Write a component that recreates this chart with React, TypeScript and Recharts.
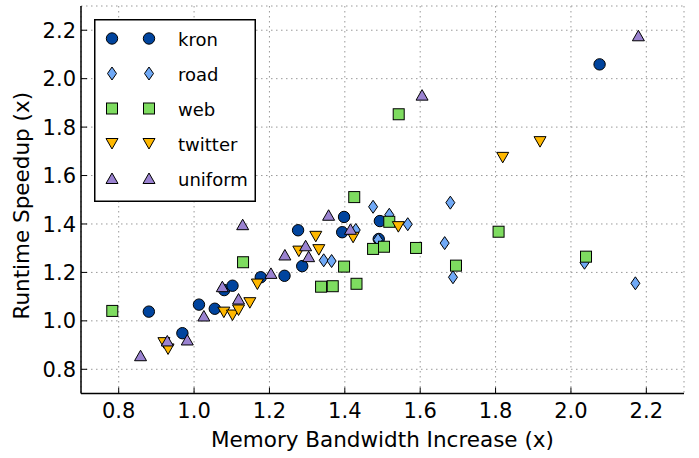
import React from 'react';
import { ScatterChart, Scatter, XAxis, YAxis, CartesianGrid, Legend } from 'recharts';

// ---- data ----
const seriesNames = ['kron', 'road', 'web', 'twitter', 'uniform'];

const kronX = [0.88, 0.969, 1.013, 1.055, 1.08, 1.102, 1.177, 1.24, 1.287, 1.276, 1.393, 1.398, 1.49, 1.493, 2.076];
const kronY = [1.038, 0.949, 1.067, 1.05, 1.127, 1.145, 1.18, 1.186, 1.226, 1.374, 1.366, 1.429, 1.338, 1.412, 2.059];

const roadX = [1.344, 1.365, 1.429, 1.475, 1.488, 1.518, 1.567, 1.665, 1.68, 1.687, 2.036, 2.171];
const roadY = [1.25, 1.247, 1.375, 1.471, 1.335, 1.438, 1.399, 1.321, 1.488, 1.18, 1.24, 1.155];

const webX = [0.783, 1.13, 1.337, 1.368, 1.398, 1.431, 1.425, 1.475, 1.504, 1.518, 1.589, 1.695, 1.808, 2.04, 1.543];
const webY = [1.041, 1.242, 1.141, 1.143, 1.224, 1.153, 1.511, 1.297, 1.306, 1.409, 1.301, 1.228, 1.368, 1.265, 1.853];

const twitterX = [0.92, 0.931, 1.079, 1.102, 1.118, 1.148, 1.168, 1.278, 1.323, 1.331, 1.422, 1.542, 1.819, 1.918];
const twitterY = [0.91, 0.884, 1.036, 1.024, 1.045, 1.075, 1.152, 1.288, 1.349, 1.294, 1.345, 1.389, 1.675, 1.74];

const uniformX = [0.858, 0.929, 0.982, 1.026, 1.075, 1.118, 1.129, 1.204, 1.241, 1.296, 1.304, 1.357, 1.415, 1.605, 2.179];
const uniformY = [0.856, 0.917, 0.921, 1.02, 1.141, 1.09, 1.397, 1.196, 1.272, 1.31, 1.265, 1.436, 1.378, 1.932, 2.177];

const tickValues = [0.8, 1.0, 1.2, 1.4, 1.6, 1.8, 2.0, 2.2];
const axisDomain: [number, number] = [0.7, 2.3];

const xLabel = 'Memory Bandwidth Increase (x)';
const yLabel = 'Runtime Speedup (x)';

// ---- styling ----
const FONT = 'DejaVu Sans';
type Kind = 'circle' | 'diamond' | 'square' | 'tdown' | 'tup';
const kinds: Kind[] = ['circle', 'diamond', 'square', 'tdown', 'tup'];
const colors = ['#00449e', '#70a9f6', '#7edc60', '#ffb800', '#9a82d0'];

const zip = (xs: number[], ys: number[]) => xs.map((x, i) => ({ x, y: ys[i] }));
const seriesData = [
  zip(kronX, kronY),
  zip(roadX, roadY),
  zip(webX, webY),
  zip(twitterX, twitterY),
  zip(uniformX, uniformY),
];

function Marker({ kind, cx, cy, fill }: { kind: Kind; cx: number; cy: number; fill: string }) {
  const common = { fill, stroke: '#000', strokeWidth: 1 };
  switch (kind) {
    case 'circle':
      return <circle cx={cx} cy={cy} r={5.7} {...common} />;
    case 'diamond':
      return <path d={`M${cx},${cy - 6.5}L${cx + 4.5},${cy}L${cx},${cy + 6.5}L${cx - 4.5},${cy}Z`} {...common} />;
    case 'square':
      return <rect x={cx - 5.5} y={cy - 5.5} width={11} height={11} {...common} />;
    case 'tup':
      return <path d={`M${cx},${cy - 5.5}L${cx + 6},${cy + 5}L${cx - 6},${cy + 5}Z`} {...common} />;
    case 'tdown':
      return <path d={`M${cx},${cy + 5.5}L${cx + 6},${cy - 5}L${cx - 6},${cy - 5}Z`} {...common} />;
  }
  return null;
}

const TICK_LEN = 6;
const BOTTOM_MARGIN = 9;
const LEFT_MARGIN = 5;

const BottomTick = (props: any) => {
  const { x, y, payload } = props;
  const ay = y - BOTTOM_MARGIN;
  return (
    <g>
      <line x1={x} x2={x} y1={ay} y2={ay - TICK_LEN} stroke="#000" strokeWidth={1} />
      <text x={x} y={y} dy="0.76em" textAnchor="middle" fontSize={21} fontFamily={FONT} fill="#000">
        {Number(payload.value).toFixed(1)}
      </text>
    </g>
  );
};

const LeftTick = (props: any) => {
  const { x, y, payload } = props;
  const ax = x + LEFT_MARGIN;
  return (
    <g>
      <line x1={ax} x2={ax + TICK_LEN} y1={y} y2={y} stroke="#000" strokeWidth={1} />
      <text x={x} y={y} dy="0.36em" textAnchor="end" fontSize={21} fontFamily={FONT} fill="#000">
        {Number(payload.value).toFixed(1)}
      </text>
    </g>
  );
};

const TopTick = (props: any) => {
  const { x, y } = props;
  return <line x1={x} x2={x} y1={y} y2={y + TICK_LEN} stroke="#000" strokeWidth={1} />;
};

const RightTick = (props: any) => {
  const { x, y } = props;
  return <line x1={x} x2={x - TICK_LEN} y1={y} y2={y} stroke="#000" strokeWidth={1} />;
};

const LegendBox = () => (
  <svg width={162} height={183} style={{ display: 'block' }}>
    <rect x={0.75} y={0.75} width={160.5} height={181.5} fill="#fff" stroke="#000" strokeWidth={1.5} />
    {seriesNames.map((name, i) => {
      const cy = 19.5 + i * 35;
      return (
        <g key={name}>
          <Marker kind={kinds[i]} cx={18} cy={cy} fill={colors[i]} />
          <Marker kind={kinds[i]} cx={55} cy={cy} fill={colors[i]} />
          <text x={84} y={cy + 7} fontSize={18} fontFamily={FONT} fill="#000">
            {name}
          </text>
        </g>
      );
    })}
  </svg>
);

export default function App() {
  return (
    <div style={{ position: 'absolute', left: 0, top: 0, background: '#fff' }}>
      <ScatterChart width={699} height={458} margin={{ top: 6, right: 15, bottom: 0, left: 0 }}>
        <CartesianGrid stroke="#999" strokeDasharray="1.5 3.5" strokeWidth={1} />
        <XAxis
          dataKey="x"
          type="number"
          domain={axisDomain}
          ticks={tickValues}
          interval={0}
          allowDataOverflow
          height={64.5}
          tickLine={false}
          tickSize={0}
          tickMargin={BOTTOM_MARGIN}
          tick={BottomTick}
          axisLine={{ stroke: '#000', strokeWidth: 1.5 }}
          label={{
            position: 'insideBottom',
            content: (p: any) => {
              const vb = p.viewBox || { x: 81, y: 393.5, width: 603 };
              return (
                <text x={vb.x + vb.width / 2} y={vb.y + 53} textAnchor="middle" fontSize={21.5} fontFamily={FONT} fill="#000">
                  {xLabel}
                </text>
              );
            },
          }}
        />
        <XAxis
          xAxisId="top"
          orientation="top"
          type="number"
          domain={axisDomain}
          ticks={tickValues}
          interval={0}
          allowDataOverflow
          height={0}
          tickLine={false}
          tickSize={0}
          tickMargin={0}
          tick={TopTick}
          axisLine={{ stroke: '#000', strokeWidth: 1.5 }}
        />
        <YAxis
          dataKey="y"
          type="number"
          domain={axisDomain}
          ticks={tickValues}
          interval={0}
          allowDataOverflow
          width={81}
          tickLine={false}
          tickSize={0}
          tickMargin={LEFT_MARGIN}
          tick={LeftTick}
          axisLine={{ stroke: '#000', strokeWidth: 1.5 }}
          label={{
            position: 'center',
            content: (p: any) => {
              const vb = p.viewBox || { x: 0, y: 6, width: 81, height: 387.5 };
              const cx = 28.5;
              const cy = vb.y + vb.height / 2 + 6;
              return (
                <text x={cx} y={cy} transform={`rotate(-90 ${cx} ${cy})`} textAnchor="middle" fontSize={21.5} fontFamily={FONT} fill="#000">
                  {yLabel}
                </text>
              );
            },
          }}
        />
        <YAxis
          yAxisId="right"
          orientation="right"
          type="number"
          domain={axisDomain}
          ticks={tickValues}
          interval={0}
          allowDataOverflow
          width={0}
          tickLine={false}
          tickSize={0}
          tickMargin={0}
          tick={RightTick}
          axisLine={{ stroke: '#000', strokeWidth: 1.5 }}
        />
        <Legend
          layout="horizontal"
          verticalAlign="middle"
          align="center"
          content={() => <LegendBox />}
          wrapperStyle={{ position: 'absolute', left: 94, top: 19, width: 162, height: 183, right: 'auto', bottom: 'auto' }}
        />
        {seriesNames.map((name, i) => (
          <Scatter
            key={name}
            name={name}
            data={seriesData[i]}
            fill={colors[i]}
            isAnimationActive={false}
            shape={(p: any) => <Marker kind={kinds[i]} cx={p.cx} cy={p.cy} fill={colors[i]} />}
          />
        ))}
      </ScatterChart>
    </div>
  );
}
